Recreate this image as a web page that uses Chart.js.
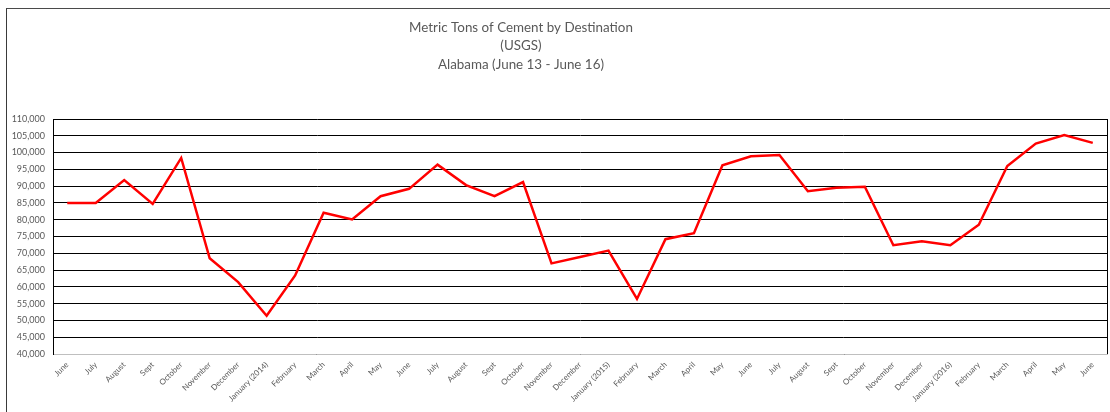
<!DOCTYPE html>
<html>
<head>
<meta charset="utf-8">
<script src="https://cdn.jsdelivr.net/npm/chart.js@4.4.0/dist/chart.umd.min.js"></script>
<style>
  html, body { margin: 0; padding: 0; background: #fff; overflow: hidden; }
  #frame { position: absolute; left: 6px; top: 8px; width: 1200px; height: 500px;
           border-left: 1px solid #3a3a3a; border-top: 1px solid #4a4a4a; }
  #wrap { position: absolute; left: 0; top: 0; width: 1103px; height: 403px; }
</style>
</head>
<body>
<div id="frame"><div id="wrap"><canvas id="c" width="1103" height="403"></canvas></div></div>
<script>
const titleLines = ["Metric Tons of Cement by Destination", "(USGS)", "Alabama (June 13 - June 16)"];

const categories = [
  "June", "July", "August", "Sept", "October", "November", "December", "January (2014)",
  "February", "March", "April", "May", "June", "July", "August", "Sept", "October",
  "November", "December", "January (2015)", "February", "March", "April", "May",
  "June", "July", "August", "Sept", "October", "November", "December", "January (2016)",
  "February", "March", "April", "May", "June"
];

const tons = [
  85000, 85000, 91800, 84700, 98400, 68500, 61400, 51400,
  63400, 82100, 80100, 87000, 89200, 96400, 90300, 87000, 91200,
  67000, 68900, 70800, 56400, 74200, 76000, 96200,
  98900, 99300, 88500, 89500, 89800, 72400, 73600, 72400,
  78500, 96000, 102700, 105200, 102900
];

const yMin = 40000, yMax = 110000, yStep = 5000;

const titlePlugin = {
  id: 'excelTitle',
  afterDraw(chart) {
    const ctx = chart.ctx;
    ctx.save();
    ctx.fillStyle = '#595959';
    ctx.font = '13.4px Lato, "Open Sans", sans-serif';
    ctx.textAlign = 'center';
    ctx.textBaseline = 'middle';
    const cx = 514;
    titleLines.forEach((t, i) => ctx.fillText(t, cx, 18.5 + i * 18.5));
    ctx.restore();
  }
};

const rightBorder = {
  id: 'rightBorder',
  afterDatasetsDraw(chart) {
    const a = chart.chartArea, ctx = chart.ctx;
    ctx.save();
    ctx.strokeStyle = '#000';
    ctx.lineWidth = 1;
    ctx.beginPath();
    ctx.moveTo(Math.round(a.right) + 0.5, a.top);
    ctx.lineTo(Math.round(a.right) + 0.5, a.bottom);
    ctx.stroke();
    ctx.restore();
  }
};

new Chart(document.getElementById('c'), {
  type: 'line',
  data: {
    labels: categories,
    datasets: [{
      data: tons,
      borderColor: '#ff0000',
      borderWidth: 2.5,
      pointRadius: 0,
      tension: 0,
      fill: false
    }]
  },
  options: {
    responsive: false,
    animation: false,
    layout: { padding: { top: 110, right: 3, left: 0, bottom: 0 } },
    plugins: { legend: { display: false }, title: { display: false }, tooltip: { enabled: false } },
    scales: {
      x: {
        offset: true,
        grid: { display: false, drawTicks: false },
        border: { display: true, color: '#bfbfbf', width: 1 },
        ticks: {
          autoSkip: false, maxRotation: 45, minRotation: 45,
          color: '#595959', font: { family: 'Lato, "Open Sans", sans-serif', size: 8 },
          padding: 6
        },
        afterFit(scale) { scale.height = 58; }
      },
      y: {
        min: yMin, max: yMax,
        grid: { color: '#000', lineWidth: 1, drawTicks: false },
        border: { display: true, color: '#000', width: 1 },
        ticks: {
          stepSize: yStep, color: '#595959', padding: 8,
          font: { family: 'Lato, "Open Sans", sans-serif', size: 9 },
          callback: v => v.toLocaleString('en-US')
        },
        afterFit(scale) { scale.width = 46; }
      }
    }
  },
  plugins: [titlePlugin, rightBorder]
});
</script>
</body>
</html>
